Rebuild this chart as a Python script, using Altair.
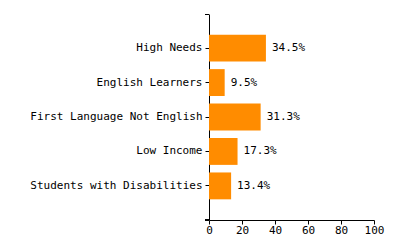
import altair as alt
import pandas as pd

categories = ["High Needs", "English Learners", "First Language Not English", "Low Income", "Students with Disabilities"]
values = [34.5, 9.5, 31.3, 17.3, 13.4]
labels = ["34.5%", "9.5%", "31.3%", "17.3%", "13.4%"]
x_ticks = [0, 20, 40, 60, 80, 100]

df = pd.DataFrame({"cat": categories, "val": values, "label": labels})

FONT = "DejaVu Sans Mono"

y = alt.Y("cat:N", sort=categories, title=None,
          scale=alt.Scale(paddingInner=0.22, paddingOuter=0.6),
          axis=alt.Axis(labelFont=FONT, labelFontSize=11, labelColor="black",
                        domainColor="black", tickColor="black", tickSize=4,
                        labelPadding=3, labelLimit=300, labelOverlap=False))
x = alt.X("val:Q", title=None, scale=alt.Scale(domain=[0, 100], nice=False),
          axis=alt.Axis(values=x_ticks, labelFont=FONT, labelFontSize=11,
                        labelColor="black", domainColor="black", tickColor="black",
                        tickSize=4, grid=False, labelPadding=0, labelFlush=False,
                        labelOverlap=False, labelBound=False))

base = alt.Chart(df).encode(x=x, y=y)
bars = base.mark_bar(color="#FF8C00")
text = base.mark_text(align="left", dx=6, font=FONT, fontSize=11, color="black").encode(text="label:N")

# outer ticks of the y axis (axis decoration)
outer_top = alt.Chart(df).mark_rule(color="black").encode(
    x=alt.value(-4), x2=alt.value(0), y=alt.value(0.5))
outer_bot = alt.Chart(df).mark_rule(color="black").encode(
    x=alt.value(-4), x2=alt.value(0), y=alt.value(206))

chart = (bars + text + outer_top + outer_bot).properties(
    width=165, height=206,
    autosize=alt.AutoSizeParams(type="none"),
    padding={"left": 209, "top": 14, "right": 26, "bottom": 30},
).configure_view(stroke=None).configure_axis(grid=False)

chart.save("out.html", embed_options={"renderer": "svg", "actions": False})
